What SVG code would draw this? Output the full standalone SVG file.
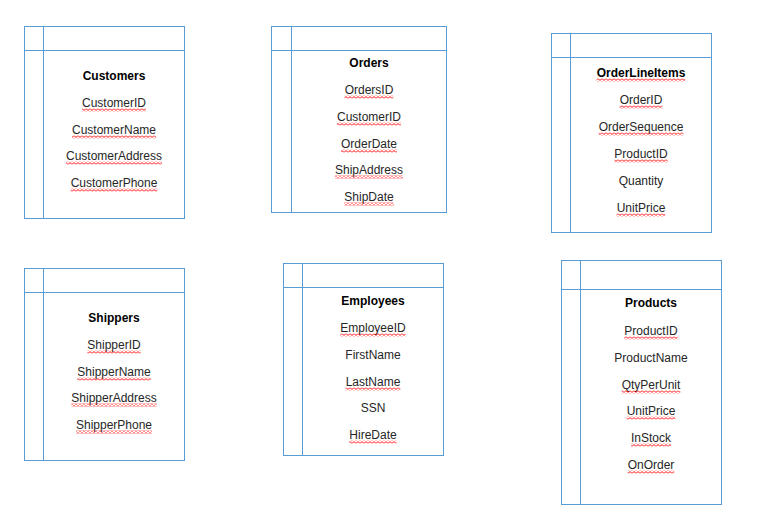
<svg xmlns="http://www.w3.org/2000/svg" width="762" height="529" viewBox="0 0 762 529">
<style>
.box{fill:#fff;stroke:#5b9bd5;stroke-width:1}
.ln{stroke:#5b9bd5;stroke-width:1;fill:none}
.t{font-family:"Liberation Sans",Arial,sans-serif;font-size:12px;fill:#000;font-weight:bold;text-anchor:middle}
.f{font-family:"Liberation Sans",Arial,sans-serif;font-size:12px;fill:#262626;text-anchor:middle}
.sq{fill:url(#wave)}
</style>
<defs>
<pattern id="wave" width="4" height="3" patternUnits="userSpaceOnUse">
<path d="M-1,1.5 L0,2.5 L2,0.5 L4,2.5 L5,1.5" fill="none" stroke="#ff0000" stroke-width="1"/>
</pattern>
</defs>
<rect width="762" height="529" fill="#fff"/>

<g id="customers">
<rect class="box" x="24.5" y="26.5" width="160" height="192"/>
<path class="ln" d="M43.5,26.5 V218.5 M24.5,50.5 H184.5"/>
<text class="t" x="114" y="80">Customers</text>
<text class="f" x="114" y="107">CustomerID</text>
<text class="f" x="114" y="134">CustomerName</text>
<text class="f" x="114" y="160">CustomerAddress</text>
<text class="f" x="114" y="187">CustomerPhone</text>
<rect class="sq" x="82" y="108.5" width="64" height="3"/>
<rect class="sq" x="72" y="135.5" width="84" height="3"/>
<rect class="sq" x="66" y="161.5" width="96" height="3"/>
<rect class="sq" x="70.6" y="188.5" width="86.7" height="3"/>
</g>

<g id="orders">
<rect class="box" x="271.5" y="26.5" width="175" height="186"/>
<path class="ln" d="M291.5,26.5 V212.5 M271.5,50.5 H446.5"/>
<text class="t" x="369" y="67">Orders</text>
<text class="f" x="369" y="94">OrdersID</text>
<text class="f" x="369" y="121">CustomerID</text>
<text class="f" x="369" y="148">OrderDate</text>
<text class="f" x="369" y="174">ShipAddress</text>
<text class="f" x="369" y="201">ShipDate</text>
<rect class="sq" x="344.6" y="95.5" width="48.7" height="3"/>
<rect class="sq" x="337" y="122.5" width="64" height="3"/>
<rect class="sq" x="341" y="149.5" width="56" height="3"/>
<rect class="sq" x="335" y="175.5" width="68" height="3"/>
<rect class="sq" x="344.3" y="202.5" width="49.4" height="3"/>
</g>

<g id="orderlineitems">
<rect class="box" x="551.5" y="33.5" width="160" height="199"/>
<path class="ln" d="M570.5,33.5 V232.5 M551.5,57.5 H711.5"/>
<text class="t" x="641" y="77">OrderLineItems</text>
<text class="f" x="641" y="104">OrderID</text>
<text class="f" x="641" y="131">OrderSequence</text>
<text class="f" x="641" y="158">ProductID</text>
<text class="f" x="641" y="185">Quantity</text>
<text class="f" x="641" y="212">UnitPrice</text>
<rect class="sq" x="596.6" y="78.5" width="88.7" height="3"/>
<rect class="sq" x="619.6" y="105.5" width="42.7" height="3"/>
<rect class="sq" x="598.6" y="132.5" width="84.7" height="3"/>
<rect class="sq" x="614.3" y="159.5" width="53.4" height="3"/>
<rect class="sq" x="616.6" y="213.5" width="48.7" height="3"/>
</g>

<g id="shippers">
<rect class="box" x="24.5" y="268.5" width="160" height="192"/>
<path class="ln" d="M43.5,268.5 V460.5 M24.5,292.5 H184.5"/>
<text class="t" x="114" y="322">Shippers</text>
<text class="f" x="114" y="349">ShipperID</text>
<text class="f" x="114" y="376">ShipperName</text>
<text class="f" x="114" y="402">ShipperAddress</text>
<text class="f" x="114" y="429">ShipperPhone</text>
<rect class="sq" x="87.3" y="350.5" width="53.4" height="3"/>
<rect class="sq" x="77.3" y="377.5" width="73.4" height="3"/>
<rect class="sq" x="71.3" y="403.5" width="85.4" height="3"/>
<rect class="sq" x="76" y="430.5" width="76" height="3"/>
</g>

<g id="employees">
<rect class="box" x="283.5" y="263.5" width="160" height="192"/>
<path class="ln" d="M302.5,263.5 V455.5 M283.5,287.5 H443.5"/>
<text class="t" x="373" y="305">Employees</text>
<text class="f" x="373" y="332">EmployeeID</text>
<text class="f" x="373" y="359">FirstName</text>
<text class="f" x="373" y="386">LastName</text>
<text class="f" x="373" y="412">SSN</text>
<text class="f" x="373" y="439">HireDate</text>
<rect class="sq" x="340.3" y="333.5" width="65.4" height="3"/>
<rect class="sq" x="345.6" y="387.5" width="54.7" height="3"/>
<rect class="sq" x="349.3" y="440.5" width="47.3" height="3"/>
</g>

<g id="products">
<rect class="box" x="561.5" y="260.5" width="160" height="244"/>
<path class="ln" d="M580.5,260.5 V504.5 M561.5,289.5 H721.5"/>
<text class="t" x="651" y="307">Products</text>
<text class="f" x="651" y="335">ProductID</text>
<text class="f" x="651" y="362">ProductName</text>
<text class="f" x="651" y="389">QtyPerUnit</text>
<text class="f" x="651" y="415">UnitPrice</text>
<text class="f" x="651" y="442">InStock</text>
<text class="f" x="651" y="469">OnOrder</text>
<rect class="sq" x="624.3" y="336.5" width="53.4" height="3"/>
<rect class="sq" x="621.6" y="390.5" width="58.7" height="3"/>
<rect class="sq" x="626.6" y="416.5" width="48.7" height="3"/>
<rect class="sq" x="631" y="443.5" width="40" height="3"/>
<rect class="sq" x="627.6" y="470.5" width="46.7" height="3"/>
</g>

<g id="connectors"/>
</svg>
